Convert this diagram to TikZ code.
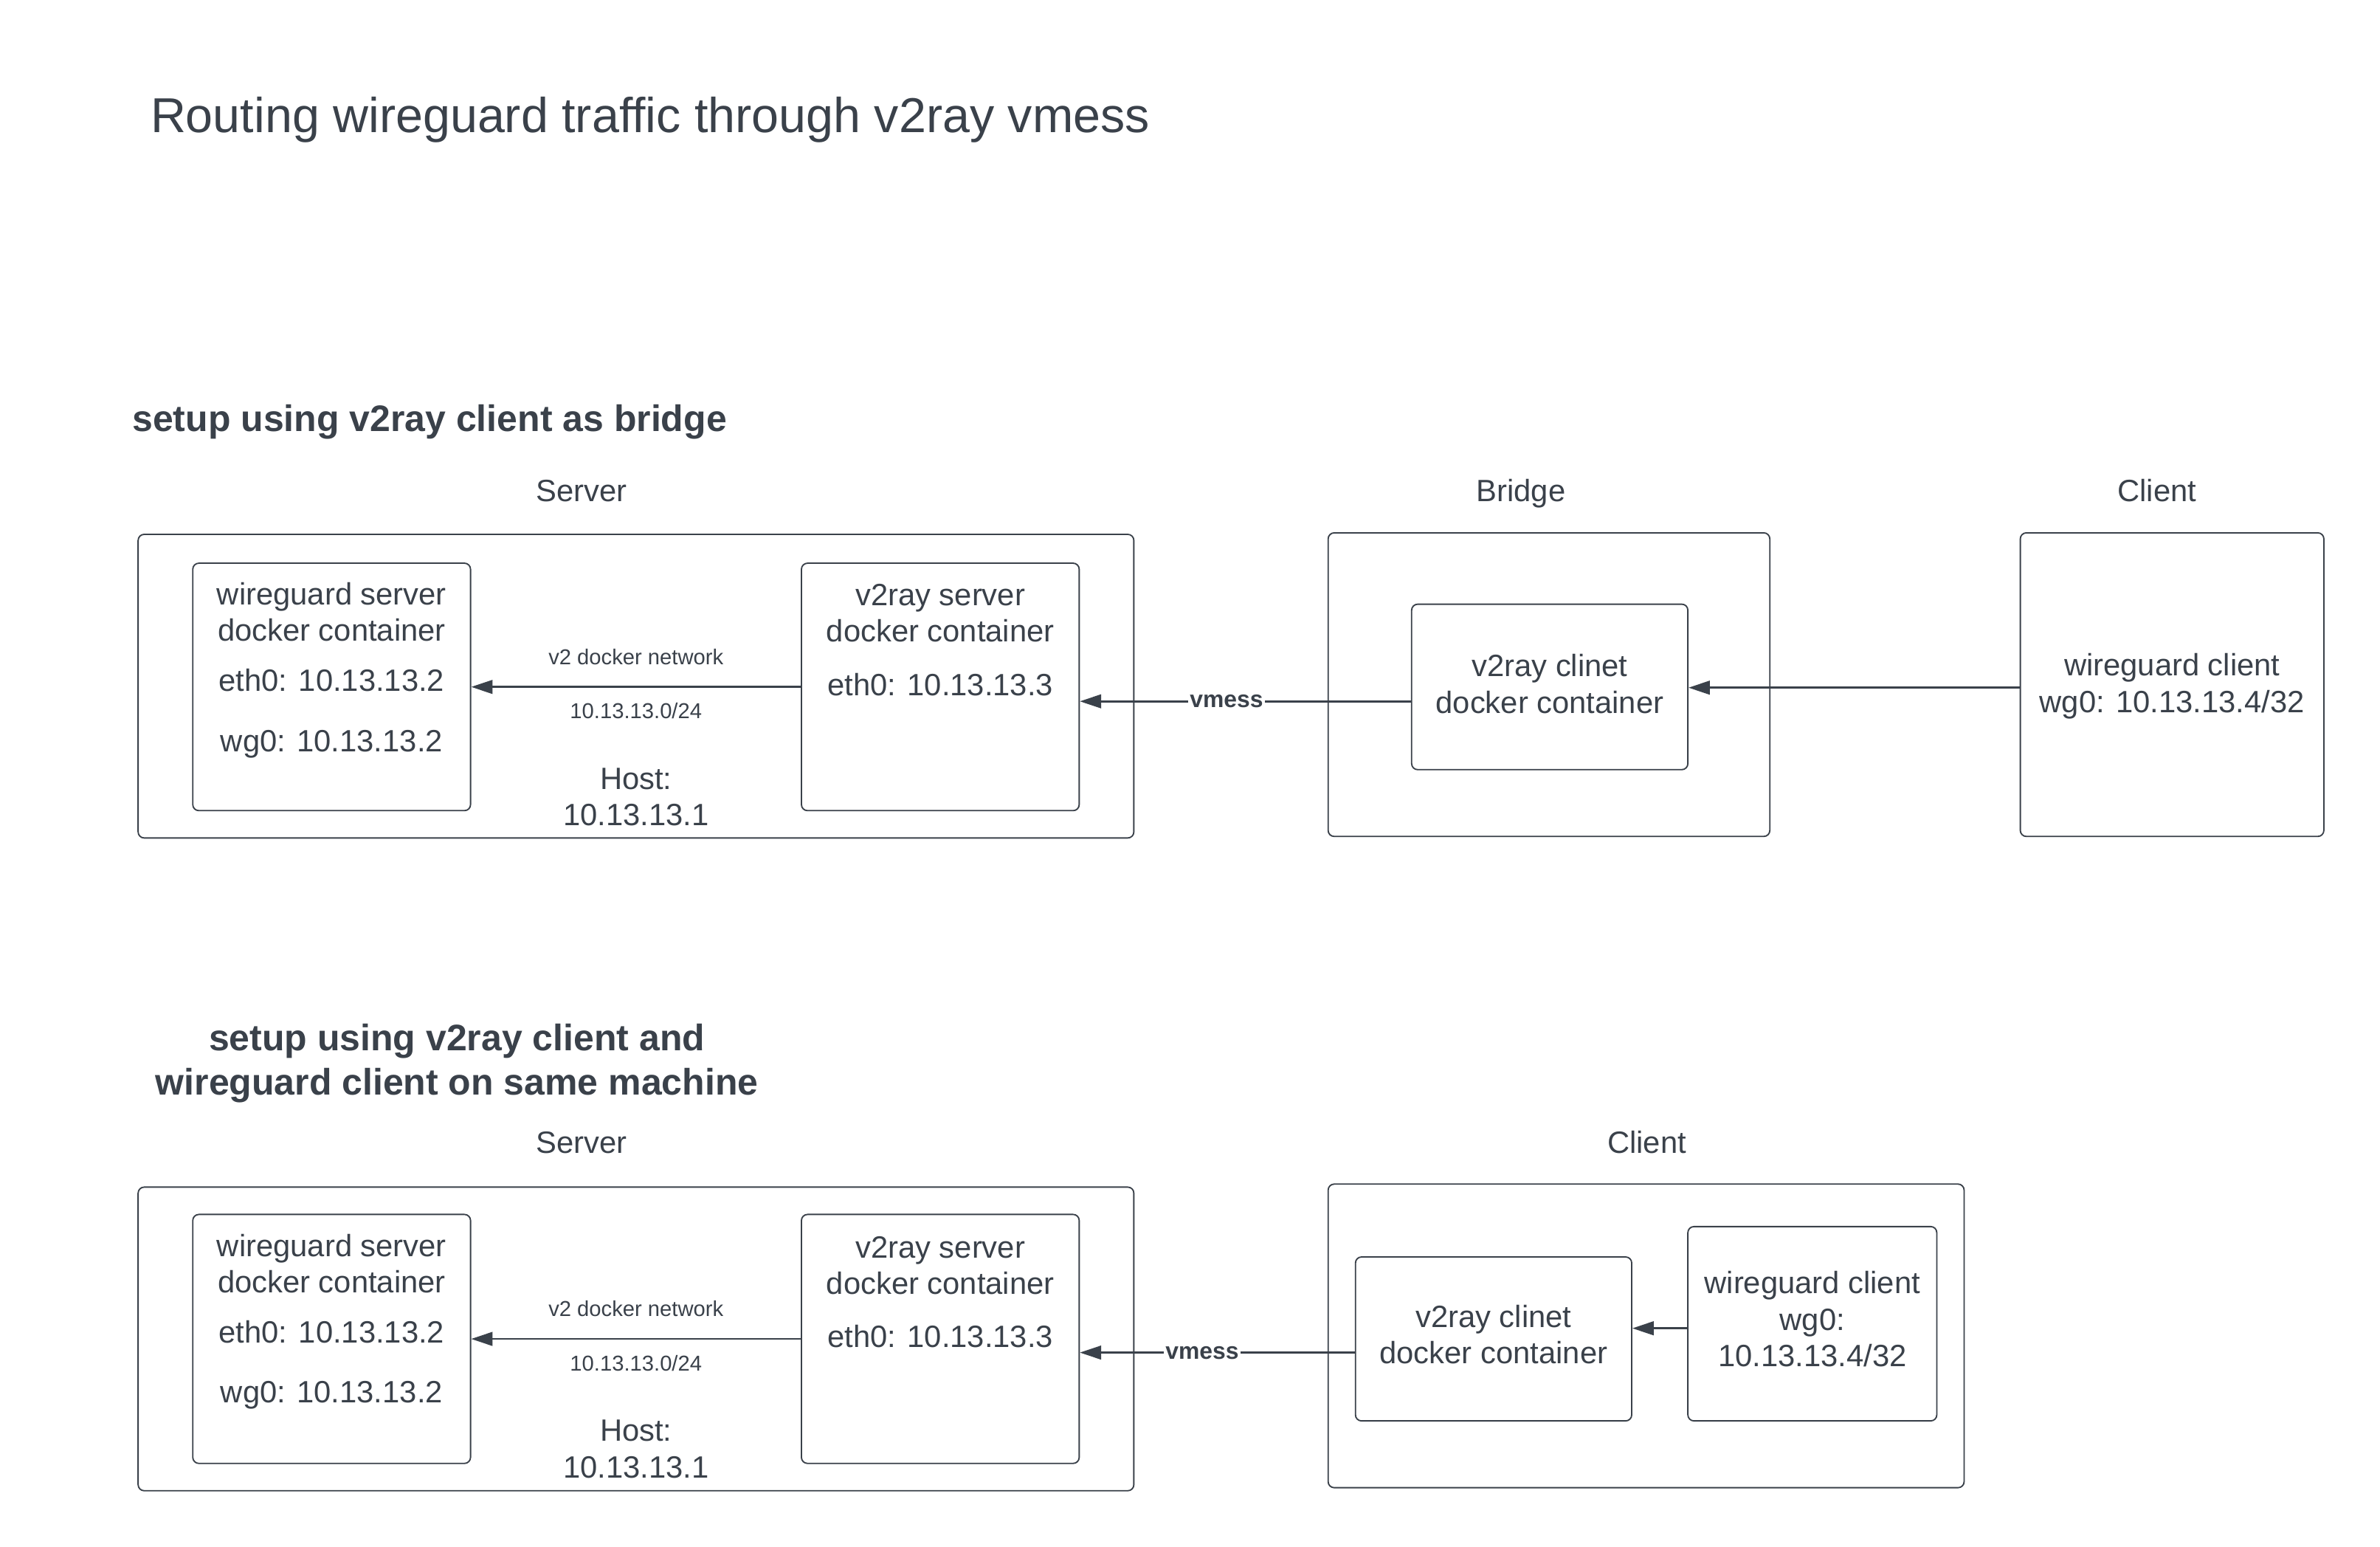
\documentclass[tikz,border=0pt]{standalone}
\usepackage{fontspec}
\setmainfont{Liberation Sans}
\usepackage{tikz}
\usetikzlibrary{arrows.meta}
\usetikzlibrary{calc}
\definecolor{ink}{HTML}{3A414A}

\tikzset{
  box/.style={draw=ink, line width=0.9pt, rounded corners=4pt, inner sep=0pt},
  txt/.style={text=ink, inner sep=0pt, align=center, font=\fontsize{20.3}{24}\selectfont},
  small/.style={text=ink, inner sep=0pt, font=\fontsize{14.2}{17}\selectfont},
  head/.style={text=ink, inner sep=0pt, align=center, font=\bfseries\fontsize{24.3}{29}\selectfont},
  link/.style={draw=ink, line width=1.3pt, -{Triangle[length=14pt,width=9pt]}},
  vm/.style={text=ink, fill=white, inner sep=1pt, font=\bfseries\fontsize{15.5}{18}\selectfont}
}

\begin{document}
\begin{tikzpicture}[x=1pt, y=-1pt]
        \useasboundingbox (0,0) rectangle (1568,1019);
        \node[text=ink, inner sep=0pt, anchor=west, font=\fontsize{32.3}{38}\selectfont] (title) at (99,79) {Routing wireguard traffic through v2ray vmess};

        % setup 1: bridge
        \node[head, anchor=west] (headA) at (87,278) {setup using v2ray client as bridge};
        \node[txt, anchor=base] (srvAlbl) at (383,330.5) {Server};
        \node[txt, anchor=base] (brgAlbl) at (1002,330.5) {Bridge};
        \node[txt, anchor=base] (cliAlbl) at (1421,330.5) {Client};

        \node[box, minimum width=656, minimum height=200] (srvA) at (419,452) {};
        \node[box, minimum width=183, minimum height=163] (wgsA) at (218.5,452.5) {};
        \node[box, minimum width=183, minimum height=163] (v2sA) at (619.5,452.5) {};
        \node[txt] (wgsAname) at (218.5,403) {wireguard server\\docker container};
        \node[txt] (wgsAeth) at (218.5,448) {eth0: 10.13.13.2};
        \node[txt] (wgsAwg) at (218.5,490) {wg0: 10.13.13.2};
        \node[txt] (v2sAname) at (619.5,404) {v2ray server\\docker container};
        \node[txt] (v2sAeth) at (619.5,451) {eth0: 10.13.13.3};
        \node[txt] (hostA) at (419,525) {Host:\\10.13.13.1};

        \node[box, minimum width=291, minimum height=200] (brgA) at (1020.5,451) {};
        \node[box, minimum width=182, minimum height=109] (v2cA) at (1021,452.5) {};
        \node[txt] (v2cAname) at ([yshift=2pt]v2cA.center) {v2ray clinet\\docker container};
        \node[box, minimum width=200, minimum height=200] (cliA) at (1431,451) {};
        \node[txt] (cliAname) at ([yshift=-1pt]cliA.center) {wireguard client\\wg0: 10.13.13.4/32};

        \draw[link] (v2sA.west) -- node[small, above=14pt] (netAlbl) {v2 docker network}
                node[small, below=10pt] (subAlbl) {10.13.13.0/24} (wgsA.east);
        \draw[link] ([yshift=-9.5pt]v2cA.west) -- node[vm, pos=0.557] (vmA) {vmess} ([yshift=-9.5pt]v2cA.west -| v2sA.east);
        \draw[link] ([yshift=-2pt]cliA.west) -- ([yshift=-2pt]cliA.west -| v2cA.east);

        % setup 2: same machine
        \node[head] (headB) at (301,700.5) {setup using v2ray client and\\wireguard client on same machine};
        \node[txt, anchor=base] (srvBlbl) at (383,759.5) {Server};
        \node[txt, anchor=base] (cliBlbl) at (1085,759.5) {Client};

        \node[box, minimum width=656, minimum height=200] (srvB) at (419,882) {};
        \node[box, minimum width=183, minimum height=164] (wgsB) at (218.5,882) {};
        \node[box, minimum width=183, minimum height=164] (v2sB) at (619.5,882) {};
        \node[txt] (wgsBname) at (218.5,832.5) {wireguard server\\docker container};
        \node[txt] (wgsBeth) at (218.5,877.5) {eth0: 10.13.13.2};
        \node[txt] (wgsBwg) at (218.5,919) {wg0: 10.13.13.2};
        \node[txt] (v2sBname) at (619.5,833.5) {v2ray server\\docker container};
        \node[txt] (v2sBeth) at (619.5,880.5) {eth0: 10.13.13.3};
        \node[txt] (hostB) at (419,954.5) {Host:\\10.13.13.1};

        \node[box, minimum width=419, minimum height=200] (cliB) at (1084.5,880) {};
        \node[box, minimum width=182, minimum height=108] (v2cB) at (984,882) {};
        \node[txt] (v2cBname) at ([yshift=3pt]v2cB.center) {v2ray clinet\\docker container};
        \node[box, minimum width=164, minimum height=128] (wgcB) at (1194,872) {};
        \node[txt] (wgcBname) at ([yshift=3pt]wgcB.center) {wireguard client\\wg0:\\10.13.13.4/32};

        \draw[link] (v2sB.west) -- node[small, above=14pt] (netBlbl) {v2 docker network}
                node[small, below=10pt] (subBlbl) {10.13.13.0/24} (wgsB.east);
        \draw[link] ([yshift=-9pt]v2cB.west) -- node[vm, pos=0.555] (vmB) {vmess} ([yshift=-9pt]v2cB.west -| v2sB.east);
        \draw[link] ([yshift=-3pt]wgcB.west) -- ([yshift=-3pt]wgcB.west -| v2cB.east);
\end{tikzpicture}
\end{document}
